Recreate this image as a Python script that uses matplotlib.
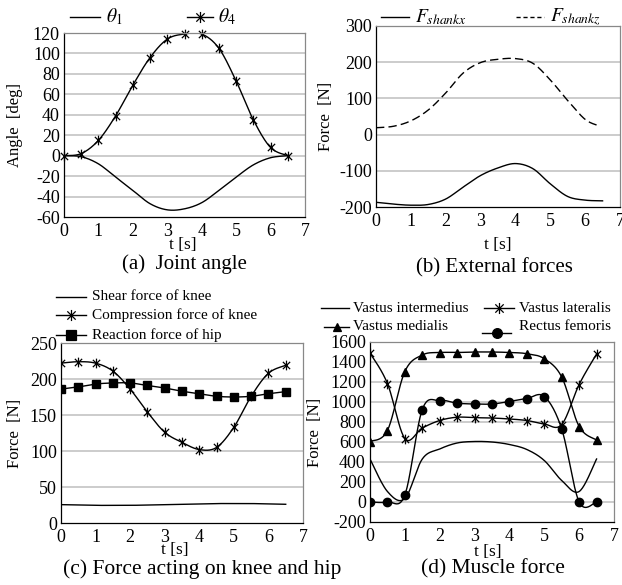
import numpy as np
import matplotlib
matplotlib.use("Agg")
import matplotlib.pyplot as plt
from matplotlib.path import Path

plt.rcParams['font.family'] = ['Liberation Serif', 'DejaVu Serif']
plt.rcParams['mathtext.fontset'] = 'stix'
plt.rcParams['axes.unicode_minus'] = False

# ---- data ----
t = [0, 0.5, 1, 1.5, 2, 2.5, 3, 3.5, 4, 4.5, 5, 5.5, 6, 6.5]

# (a) joint angle
theta1 = [0, -1, -8, -21, -34, -47, -53, -52, -46, -34, -21, -9, -2, 0]
theta4 = [0, 2, 15, 39, 69, 96, 114, 119, 119, 105, 73, 35, 8, 0]

# (b) external forces
f_shankx = [-187, -192, -195, -193, -178, -145, -113, -92, -80, -94, -136, -171, -181, -183]
t_z = [0, 0.5, 1, 1.5, 2, 2.5, 3, 3.5, 4, 4.5, 5, 5.5, 6, 6.4]
f_shankz = [19, 23, 38, 68, 115, 170, 199, 208, 210, 197, 151, 94, 42, 24]

# (c) knee / hip forces
shear_knee = [25.5, 25, 24.5, 24.5, 24.5, 25, 25.5, 26, 26.5, 27, 27, 27, 26.5, 26]
compression_knee = [222, 224, 222, 211, 186, 154, 126, 112, 102, 105, 133, 176, 208, 219]
reaction_hip = [186, 189, 193, 194.5, 194.5, 191, 187.5, 183, 179.5, 176, 175, 176, 179.5, 182.5]

# (d) muscle force
v_intermedius = [430, 105, 35, 430, 530, 590, 605, 600, 575, 525, 415, 215, 105, 430]
v_lateralis = [1490, 1185, 635, 740, 815, 848, 843, 840, 830, 815, 780, 775, 1175, 1480]
v_medialis = [605, 715, 1305, 1470, 1495, 1495, 1500, 1500, 1495, 1483, 1433, 1250, 755, 620]
rectus_fem = [0, 0, 70, 925, 1015, 988, 980, 980, 1005, 1035, 1055, 730, 0, 0]


def smooth(x, y, n=24):
    # Excel-like smoothed line (Catmull-Rom bezier)
    p = np.column_stack([x, y]).astype(float)
    xs, ys = [], []
    for i in range(len(p) - 1):
        p0 = p[i - 1] if i > 0 else p[i]
        p1, p2 = p[i], p[i + 1]
        p3 = p[i + 2] if i + 2 < len(p) else p[i + 1]
        c1 = p1 + (p2 - p0) / 6
        c2 = p2 - (p3 - p1) / 6
        s = np.linspace(0, 1, n)[:, None]
        b = (1 - s)**3 * p1 + 3 * (1 - s)**2 * s * c1 + 3 * (1 - s) * s**2 * c2 + s**3 * p2
        xs.extend(b[:, 0])
        ys.extend(b[:, 1])
    return xs, ys


star = Path([(0, -1), (0, 1), (-0.75, -0.75), (0.75, 0.75), (-0.75, 0.75), (0.75, -0.75)],
            [Path.MOVETO, Path.LINETO, Path.MOVETO, Path.LINETO, Path.MOVETO, Path.LINETO])

W, H = 622, 585
fig = plt.figure(figsize=(W / 100, H / 100), dpi=100)


def make_ax(l, r, top, bot, ylim, yticks, ylabel, ylab_x):
    ax = fig.add_axes([l / W, 1 - bot / H, (r - l) / W, (bot - top) / H])
    ax.set_xlim(0, 7)
    ax.set_ylim(*ylim)
    ax.set_xticks(range(8))
    ax.set_yticks(yticks)
    ax.tick_params(length=0, labelsize=13)
    ax.tick_params(axis='x', pad=4)
    ax.tick_params(axis='y', pad=3)
    for y in yticks[1:-1]:
        ax.axhline(y, color='#bfbfbf', lw=1.1, zorder=0)
    ax.spines['left'].set_color('black')
    ax.spines['bottom'].set_color('black')
    ax.spines['top'].set_color('#888888')
    ax.spines['right'].set_color('#888888')
    for s in ax.spines.values():
        s.set_linewidth(0.9)
    ax.set_ylabel(ylabel, fontsize=12)
    ax.yaxis.set_label_coords((ylab_x - l) / (r - l), 0.5)
    return ax


lw = 1.0
mk = dict(color='black', lw=lw)

# (a)
ax1 = make_ax(64, 305, 33, 217, (-60, 120), list(range(-60, 121, 20)), 'Angle  [deg]', 23)
ax1.plot(*smooth(t, theta1), **mk)
ax1.plot(*smooth(t, theta4), **mk)
ax1.plot(t, theta4, ls='none', marker=star, ms=7, mec='black', mew=0.9, clip_on=False)

# (b)
ax2 = make_ax(376, 620, 26, 207, (-200, 300), list(range(-200, 301, 100)), 'Force  [N]', 334)
ax2.plot(*smooth(t, f_shankx), **mk)
ax2.plot(*smooth(t_z, f_shankz), color='black', lw=lw, ls=(0, (6, 3)))

# (c)
ax3 = make_ax(61, 303, 343, 523, (0, 250), list(range(0, 251, 50)), 'Force  [N]', 23)
ax3.plot(*smooth(t, shear_knee), **mk)
ax3.plot(*smooth(t, compression_knee), **mk)
ax3.plot(t, compression_knee, ls='none', marker=star, ms=7, mec='black', mew=0.9)
ax3.plot(*smooth(t, reaction_hip), **mk)
ax3.plot(t, reaction_hip, ls='none', marker='s', ms=6, color='black')

# (d)
ax4 = make_ax(370, 614, 342, 522, (-200, 1600), list(range(-200, 1601, 200)), 'Force  [N]', 323)
ax4.plot(*smooth(t, v_intermedius), **mk)
ax4.plot(*smooth(t, v_lateralis), **mk)
ax4.plot(t, v_lateralis, ls='none', marker=star, ms=7, mec='black', mew=0.9)
ax4.plot(*smooth(t, v_medialis), **mk)
ax4.plot(t, v_medialis, ls='none', marker='^', ms=5.5, color='black')
ax4.plot(*smooth(t, rectus_fem), **mk)
ax4.plot(t, rectus_fem, ls='none', marker='o', ms=6, color='black')

# overlay for legends, axis titles and captions (pixel coords)
ov = fig.add_axes([0, 0, 1, 1])
ov.set_xlim(0, W)
ov.set_ylim(H, 0)
ov.axis('off')


def leg(x0, x1, y, text, tx, ty=None, fs=11, **kw):
    ov.plot([x0, x1], [y, y], color='black', lw=lw, **kw)
    ov.text(tx, y if ty is None else ty, text, fontsize=fs, va='center', ha='left')


def legm(x0, x1, y, marker, ms):
    ov.plot([(x0 + x1) / 2], [y], ls='none', marker=marker, ms=ms, color='black', mec='black', mew=0.9)


# (a) legend
leg(70, 100, 17, r'$\theta_1$', 106, fs=14)
leg(187, 213, 17, r'$\theta_4$', 218, fs=14)
legm(187, 213, 17, star, 8)
# (b) legend
leg(381, 409, 17, r'$F_{shankx}$', 415, fs=14)
leg(516, 544, 17, r'$F_{shankz}$', 550, fs=14, ls=(0, (3, 2)))
# (c) legend
leg(56, 86, 297, 'Shear force of knee', 92)
leg(56, 86, 315, 'Compression force of knee', 92)
legm(56, 86, 315, star, 8)
leg(56, 86, 335, 'Reaction force of hip', 92)
legm(56, 86, 335, 's', 7)
# (d) legend
leg(321, 349, 308, 'Vastus intermedius', 353)
leg(484, 514, 308, 'Vastus lateralis', 519)
legm(484, 514, 308, star, 8)
leg(324, 349, 327, 'Vastus medialis', 353)
legm(324, 349, 327, '^', 6)
leg(482, 511, 333, 'Rectus femoris', 519, ty=327)
legm(482, 511, 333, 'o', 7)

# x axis titles and captions
for x, y in [(183, 245), (498, 245), (175, 550), (488, 552)]:
    ov.text(x, y, 't [s]', fontsize=12.5, ha='center', va='center')
ov.text(184, 264, '(a)  Joint angle', fontsize=15, ha='center', va='center')
ov.text(494, 268, '(b) External forces', fontsize=15, ha='center', va='center')
ov.text(202, 569, '(c) Force acting on knee and hip', fontsize=15.5, ha='center', va='center')
ov.text(493, 569, '(d) Muscle force', fontsize=15.5, ha='center', va='center')

fig.savefig('out.png', dpi=100)
